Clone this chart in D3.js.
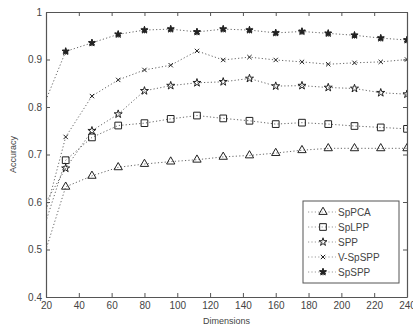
<!DOCTYPE html>
<html>
<head>
<meta charset="utf-8">
<script src="https://cdn.jsdelivr.net/npm/d3@7"></script>
<style>
  body { margin: 0; background: #fff; }
  svg { display: block; font-family: "Liberation Sans", Arial, sans-serif; }
</style>
</head>
<body>
<svg id="chart" width="413" height="327"></svg>
<script>
// dimensions (first point lies left of the axis and is clipped)
var dims = [16, 32, 48, 64, 80, 96, 112, 128, 144, 160, 176, 192, 208, 224, 240];
var spPCA = [0.456, 0.632, 0.655, 0.673, 0.680, 0.685, 0.689, 0.695, 0.698, 0.703, 0.709, 0.713, 0.713, 0.713, 0.713];
var spLPP = [0.517, 0.688, 0.736, 0.761, 0.766, 0.775, 0.782, 0.776, 0.771, 0.764, 0.767, 0.764, 0.760, 0.757, 0.754];
var spp = [0.576, 0.671, 0.750, 0.785, 0.834, 0.845, 0.851, 0.853, 0.860, 0.844, 0.845, 0.841, 0.839, 0.830, 0.827];
var vSpSPP = [0.528, 0.737, 0.823, 0.857, 0.878, 0.888, 0.918, 0.899, 0.905, 0.899, 0.895, 0.890, 0.893, 0.895, 0.900];
var spSPP = [0.781, 0.917, 0.935, 0.953, 0.962, 0.964, 0.958, 0.964, 0.962, 0.956, 0.959, 0.955, 0.951, 0.945, 0.941];
var seriesNames = ["SpPCA", "SpLPP", "SPP", "V-SpSPP", "SpSPP"];
var xTicks = [20, 40, 60, 80, 100, 120, 140, 160, 180, 200, 220, 240];
var yTicks = [0.4, 0.5, 0.6, 0.7, 0.8, 0.9, 1];

var allSeries = [spPCA, spLPP, spp, vSpSPP, spSPP];

var dimensions = {
  width: 413,
  height: 327,
  margin: { top: 12, right: 6, bottom: 30, left: 46 },
};
dimensions.boundedWidth = dimensions.width - dimensions.margin.left - dimensions.margin.right;
dimensions.boundedHeight = dimensions.height - dimensions.margin.top - dimensions.margin.bottom;

var svg = d3.select("#chart");

var xScale = d3.scaleLinear().domain([20, 240]).range([0, dimensions.boundedWidth]);
var yScale = d3.scaleLinear().domain([0.4, 1]).range([dimensions.boundedHeight, 0]);

var bounds = svg.append("g")
  .attr("transform", "translate(" + dimensions.margin.left + "," + dimensions.margin.top + ")");

svg.append("defs").append("clipPath").attr("id", "clip")
  .append("rect")
  .attr("width", dimensions.boundedWidth)
  .attr("height", dimensions.boundedHeight);

var axisColor = "#555";
var lineColor = "#666";

// axes, matlab style ticks pointing inward
var xAxis = d3.axisBottom(xScale).tickValues(xTicks).tickSize(-4).tickSizeOuter(0).tickPadding(5).tickFormat(d3.format("d"));
var yAxis = d3.axisLeft(yScale).tickValues(yTicks).tickSize(-4).tickSizeOuter(0).tickPadding(4).tickFormat(function (d) { return d === 1 ? "1" : d3.format(".1f")(d); });
var xTop = d3.axisTop(xScale).tickValues(xTicks).tickSize(-4).tickSizeOuter(0).tickFormat("");
var yRight = d3.axisRight(yScale).tickValues(yTicks).tickSize(-4).tickSizeOuter(0).tickFormat("");

function styleAxis(g) {
  g.select(".domain").attr("stroke", axisColor).attr("stroke-width", 1.2);
  g.selectAll(".tick line").attr("stroke", axisColor);
  g.selectAll(".tick text").attr("fill", "#444").style("font-size", "10px").style("font-family", "Liberation Sans, Arial, sans-serif");
}

bounds.append("g").attr("transform", "translate(0," + dimensions.boundedHeight + ")").call(xAxis).call(styleAxis);
bounds.append("g").call(yAxis).call(styleAxis);
bounds.append("g").call(xTop).call(styleAxis);
bounds.append("g").attr("transform", "translate(" + dimensions.boundedWidth + ",0)").call(yRight).call(styleAxis);

// labels
svg.append("text")
  .attr("x", dimensions.margin.left + dimensions.boundedWidth / 2)
  .attr("y", 324)
  .attr("text-anchor", "middle")
  .style("font-size", "9px")
  .attr("fill", "#444")
  .text("Dimensions");

svg.append("text")
  .attr("transform", "translate(16," + (dimensions.margin.top + dimensions.boundedHeight / 2) + ") rotate(-90)")
  .attr("text-anchor", "middle")
  .style("font-size", "9px")
  .attr("fill", "#444")
  .text("Accuracy");

// markers
var symbols = [
  { type: d3.symbolTriangle, size: 30, fill: "none" },
  { type: d3.symbolSquare, size: 45, fill: "none" },
  { type: d3.symbolStar, size: 20, fill: "none" },
  { type: d3.symbolX, size: 14, fill: "none" },
  { type: d3.symbolStar, size: 16, fill: "#222" },
];

function drawMarker(g, i, x, y) {
  var s = symbols[i];
  g.append("path")
    .attr("transform", "translate(" + x + "," + y + ")")
    .attr("d", d3.symbol().type(s.type).size(s.size)())
    .attr("fill", s.fill)
    .attr("stroke", "#222")
    .attr("stroke-width", 1);
  if (i === 4) {
    g.append("path")
      .attr("transform", "translate(" + x + "," + y + ")")
      .attr("d", d3.symbol().type(d3.symbolAsterisk).size(30)())
      .attr("fill", "none")
      .attr("stroke", "#222")
      .attr("stroke-width", 1);
  }
}

var plot = bounds.append("g").attr("clip-path", "url(#clip)");

var line = d3.line()
  .x(function (d, i) { return xScale(dims[i]); })
  .y(function (d) { return yScale(d); });

allSeries.forEach(function (values, si) {
  plot.append("path")
    .datum(values)
    .attr("d", line)
    .attr("fill", "none")
    .attr("stroke", lineColor)
    .attr("stroke-width", 1)
    .attr("stroke-dasharray", "1.2,2.2");
  values.forEach(function (v, i) {
    if (dims[i] >= 20) drawMarker(plot, si, xScale(dims[i]), yScale(v));
  });
});

// legend
var legend = svg.append("g").attr("transform", "translate(303,201)");
legend.append("rect")
  .attr("width", 96)
  .attr("height", 82)
  .attr("fill", "#fff")
  .attr("stroke", axisColor)
  .attr("stroke-width", 1);

seriesNames.forEach(function (name, i) {
  var y = 11 + i * 15;
  legend.append("line")
    .attr("x1", 5).attr("x2", 33)
    .attr("y1", y).attr("y2", y)
    .attr("stroke", "#999")
    .attr("stroke-dasharray", "1.2,2.2");
  drawMarker(legend, i, 20, y);
  legend.append("text")
    .attr("x", 35)
    .attr("y", y + 3.5)
    .style("font-size", "10px")
    .attr("fill", "#444")
    .text(name);
});
</script>
</body>
</html>
